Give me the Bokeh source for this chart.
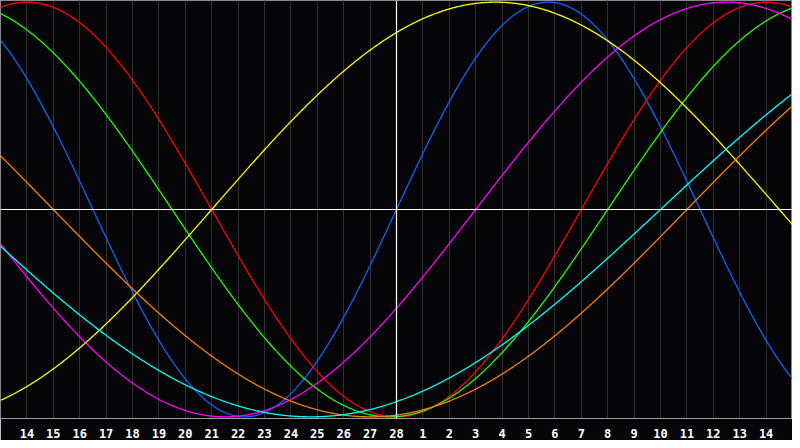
import numpy as np
from bokeh.plotting import figure
from bokeh.models import Range1d, FixedTicker, Span
from bokeh.embed import file_html
from bokeh.resources import INLINE

# ---- data ----
tick_days = list(range(1, 30))
tick_labels = ["14", "15", "16", "17", "18", "19", "20", "21", "22", "23", "24", "25",
               "26", "27", "28", "1", "2", "3", "4", "5", "6", "7", "8", "9", "10",
               "11", "12", "13", "14"]
cycle_names = ["Physical", "Emotional", "Intellectual", "Intuitive", "Aesthetic",
               "Awareness", "Spiritual"]
cycle_periods = [23, 28, 33, 38, 43, 48, 53]
cycle_colors = ["#0a66ff", "#ff0000", "#22ff00", "#ff00ff", "#ffff00", "#ff8000", "#00ffff"]
days_alive_today = 16261
today_day = 15
first_day, last_day = 0, 30

p = figure(width=792, height=440, output_backend="svg", toolbar_location=None,
           x_range=Range1d(first_day, last_day), y_range=Range1d(-1.008, 1.008),
           y_axis_location=None, min_border_left=0, min_border_right=0,
           min_border_top=0, min_border_bottom=0)
p.background_fill_color = "#050508"
p.border_fill_color = "#050508"
p.outline_line_color = "#8a8a8a"
p.ygrid.visible = False
p.xgrid.ticker = FixedTicker(ticks=tick_days)
p.xgrid.grid_line_color = "#303030"
p.xgrid.grid_line_width = 1

ax = p.xaxis[0]
ax.ticker = FixedTicker(ticks=tick_days)
ax.major_label_overrides = {d: l for d, l in zip(tick_days, tick_labels)}
ax.major_tick_line_color = None
ax.minor_tick_line_color = None
ax.axis_line_color = "#9a9a9a"
ax.major_label_text_color = "#ffffff"
ax.major_label_text_font = "DejaVu Sans Mono"
ax.major_label_text_font_style = "bold"
ax.major_label_text_font_size = "12px"
ax.major_label_standoff = 4

t = np.linspace(first_day, last_day, 1201)
for name, period, color in zip(cycle_names, cycle_periods, cycle_colors):
    n = days_alive_today + (t - today_day)
    y = np.sin(2 * np.pi * n / period)
    p.line(t, y, line_color=color, line_width=1.3)

p.add_layout(Span(location=0, dimension="width", line_color="#ffffff", line_width=1.2))
p.add_layout(Span(location=today_day, dimension="height", line_color="#ffffff", line_width=1.2))

open("out.html", "w").write(file_html(p, INLINE))
